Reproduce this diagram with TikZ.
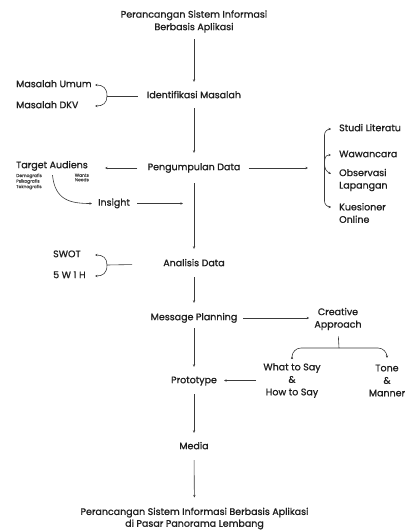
\documentclass[tikz,border=0pt]{standalone}
\usepackage{fontspec}
\setmainfont{Poppins}[FakeBold=0.9]
\usetikzlibrary{arrows.meta}
\definecolor{txt}{HTML}{1E1E1E}
\definecolor{lnc}{HTML}{3A3A3A}
\begin{document}
\begin{tikzpicture}[x=1pt,y=-1pt,
  lbl/.style={font=\fontsize{9.5}{12.5}\selectfont, inner sep=0pt, align=center, text=txt, text height=6.2pt, text depth=1.8pt},
  mlbl/.style={font=\fontsize{9.5}{12.5}\selectfont, inner sep=0pt, align=center, text=txt},
  tinytxt/.style={font=\fontsize{4.4}{4.5}\selectfont, inner sep=0pt, text=txt!80},
  ln/.style={draw=lnc, line width=0.6pt},
  arr/.style={ln, -{Stealth[length=2.6pt,width=2.4pt]}}]
\path[use as bounding box, fill=white] (0,0) rectangle (406,531);

% nodes
\node[mlbl] (title) at (194,21.5) {Perancangan Sistem Informasi\\Berbasis Aplikasi};
\node[lbl] (ident) at (194,96) {Identifikasi Masalah};
\node[lbl,anchor=west] (mu) at (16,85) {Masalah Umum};
\node[lbl,anchor=west] (mdkv) at (16,106) {Masalah DKV};
\node[lbl] (peng) at (194,168) {Pengumpulan Data};
\node[lbl,anchor=west] (ta) at (16,166) {Target Audiens};
\node[tinytxt,anchor=north west,align=left] (demo) at (16,173.5) {Demografis\\Psikografis\\Teknografis};
\node[tinytxt,anchor=north east,align=right] (wants) at (89,173.5) {Wants\\Needs};
\node[lbl,anchor=west] (ins) at (98,203.5) {Insight};
\node[lbl,anchor=west] (studi) at (339,129) {Studi Literatu};
\node[lbl,anchor=west] (waw) at (339,155) {Wawancara};
\node[mlbl,anchor=west,align=left] (obs) at (339,180) {Observasi\\Lapangan};
\node[mlbl,anchor=west,align=left] (kue) at (339,213) {Kuesioner\\Online};
\node[lbl] (anal) at (194,264) {Analisis Data};
\node[lbl,anchor=west] (swot) at (53,255) {SWOT};
\node[lbl,anchor=west] (w5) at (53,276) {5 W 1 H};
\node[lbl] (mp) at (194,318) {Message Planning};
\node[mlbl] (ca) at (338,319) {Creative\\Approach};
\node[mlbl] (what) at (292,380.5) {What to Say\\\&\\How to Say};
\node[mlbl] (tone) at (387,380.5) {Tone\\\&\\Manner};
\node[lbl] (proto) at (194,381) {Prototype};
\node[lbl] (media) at (194,447) {Media};
\node[font=\fontsize{9.5}{11.8}\selectfont, inner sep=0pt, align=center, text=txt] (final) at (194.5,518.5) {Perancangan Sistem Informasi Berbasis Aplikasi\\di Pasar Panorama Lembang};

% hub coordinates
\coordinate (h1) at (107,96);
\coordinate (h3) at (107,265);
\coordinate (rb) at (324.5,163);
\coordinate (h2) at (339,348);
\coordinate (pe) at (308,168);

% main column
\draw[arr, shorten <=6.5pt, shorten >=10pt] (title) -- (ident);
\draw[arr, shorten <=8pt, shorten >=11pt] (ident) -- (peng);
\draw[arr, shorten <=11pt, shorten >=11pt] (peng) -- (anal);
\draw[arr, shorten <=9pt, shorten >=11pt] (anal) -- (mp);
\draw[arr, shorten <=6pt, shorten >=10pt] (mp) -- (proto);
\draw[arr, shorten <=9pt, shorten >=10pt] (proto) -- (media);
\draw[arr, shorten <=9pt, shorten >=10pt] (media) -- (final);

% identifikasi bracket
\draw[ln, shorten <=9pt] (ident.west) -- (h1);
\draw[arr] (h1) .. controls (107,88) and (103,85) .. ([xshift=-12pt]mu.east -| h1);
\draw[arr] (h1) .. controls (107,103) and (103,106) .. ([xshift=-12pt]mdkv.east -| h1);

% analisis bracket
\draw[ln, shorten <=31pt] (anal.west) -- (h3);
\draw[arr] (h3) .. controls (107,258) and (103,255) .. ([xshift=-12pt]swot.east -| h3);
\draw[arr] (h3) .. controls (107,273) and (103,276) .. ([xshift=-12pt]w5.east -| h3);

% pengumpulan data
\draw[arr, shorten <=10pt, shorten >=17pt] (peng.west) -- (peng.west -| ta.east);
\draw[arr, shorten <=8pt] (peng.east) -- (pe);
\draw[arr, shorten <=5pt, shorten >=6pt] (ta.south) .. controls (55,200) and (70,203.5) .. (ins.west);
\draw[arr, shorten <=7pt, shorten >=11pt] (ins.east) -- (ins.east -| peng);

% right bracket
\draw[arr, rounded corners=6pt] (rb) |- ([xshift=-8pt]studi.west);
\draw[arr] (rb) .. controls (324.5,157) and (326,155) .. ([xshift=-8pt]waw.west);
\draw[arr] (rb) .. controls (324.5,169) and (326,171) .. ([xshift=-8pt,yshift=6pt]obs.west);
\draw[arr, rounded corners=6pt] (rb) |- ([xshift=-8pt,yshift=6pt]kue.west);

% message planning / creative approach
\draw[arr, shorten <=6pt, shorten >=5pt] (mp.east) -- (mp.east -| ca.west);
\draw[ln, shorten <=6pt] (ca.south) -- (h2);
\draw[arr, rounded corners=9pt] (h2) -| ([yshift=6.5pt]what.north);
\draw[arr, rounded corners=9pt] (h2) -| ([yshift=6.5pt]tone.north);
\draw[arr, shorten <=7pt, shorten >=7pt] (what.west) -- (what.west -| proto.east);
\end{tikzpicture}
\end{document}
